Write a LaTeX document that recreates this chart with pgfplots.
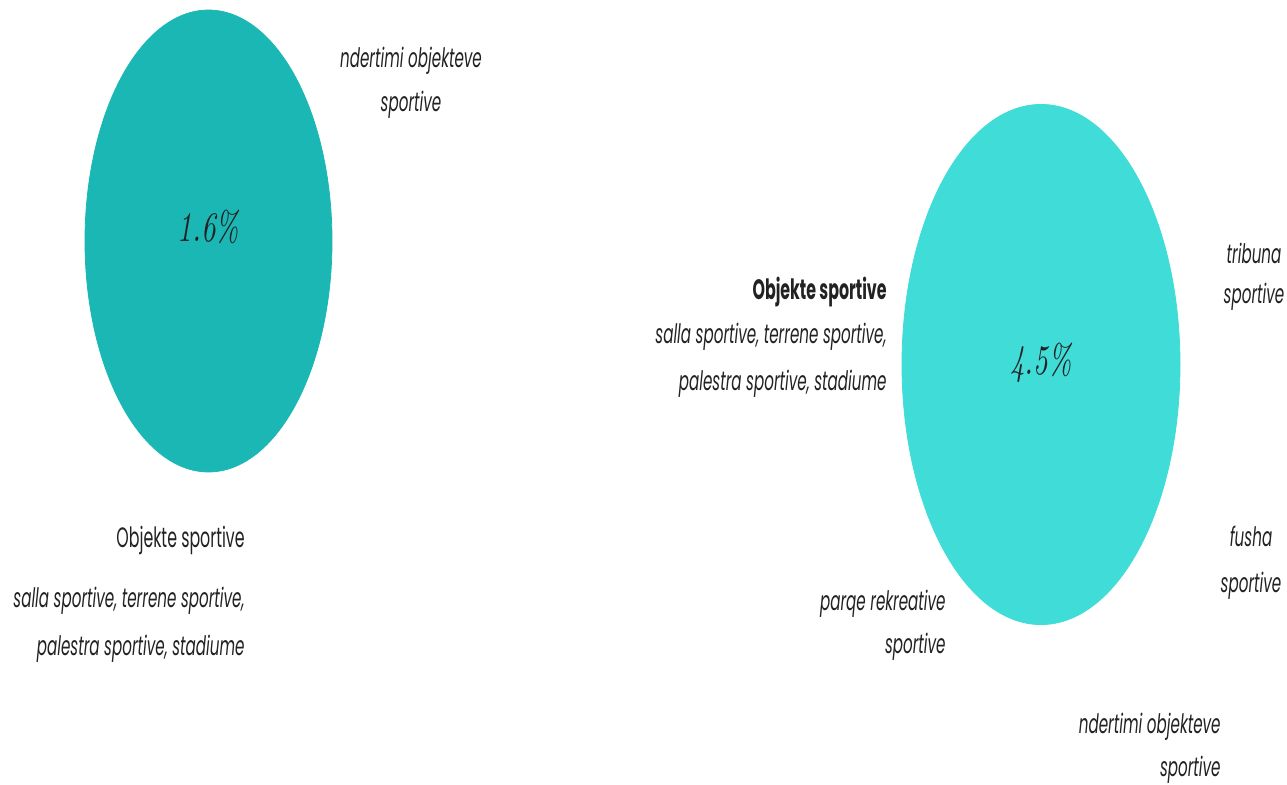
\documentclass[border=0pt]{standalone}
\usepackage{pgfplots}
\pgfplotsset{compat=1.18}
\usepackage{fontspec}
\setmainfont{Poppins}
\newfontfamily\lmri{lmroman10-italic.otf}
\definecolor{tealA}{RGB}{27,183,181}
\definecolor{tealB}{RGB}{64,220,216}
\definecolor{txt}{RGB}{34,34,34}
\newcommand\sq[1]{\scalebox{0.565}[1]{#1}}
\newcommand\sqp[1]{\scalebox{0.68}[1]{#1}}
\tikzset{lbl/.style={text=txt,inner sep=0pt},
  it/.style={font=\itshape\fontsize{13.4}{15}\selectfont}}
\begin{document}
\begin{tikzpicture}
\begin{axis}[width=643.5pt,height=392pt,scale only axis,
  xmin=0,xmax=1287,ymin=0,ymax=784,y dir=reverse,
  ticks=none,axis line style={draw=none},clip=false]
% bubbles: value 1.6 and 4.5
\addplot[tealA, only marks, mark=*, mark size=61.75pt,
  mark options={fill=tealA, draw=tealA, yscale=1.87},
  point meta=explicit,
  nodes near coords={\sqp{\lmri\fontsize{21}{23}\selectfont\pgfmathprintnumber[fixed,precision=1,assume math mode=true]{\pgfplotspointmeta}\%}},
  nodes near coords align={center},
  every node near coord/.append style={text=txt, yshift=7pt}]
  coordinates {(208.5,241) [1.6]};
\addplot[tealB, only marks, mark=*, mark size=69.5pt,
  mark options={fill=tealB, draw=tealB, yscale=1.871},
  point meta=explicit,
  nodes near coords={\sqp{\lmri\fontsize{21}{23}\selectfont\pgfmathprintnumber[fixed,precision=1,assume math mode=true]{\pgfplotspointmeta}\%}},
  nodes near coords align={center},
  every node near coord/.append style={text=txt, yshift=1pt}]
  coordinates {(1041,364.5) [4.5]};
% left labels
\node[lbl,it] at (axis cs:411,61) {\sq{ndertimi objekteve}};
\node[lbl,it] at (axis cs:411,105) {\sq{sportive}};
\node[lbl,anchor=east,font=\fontsize{14}{16}\selectfont] at (axis cs:245,540) {\sq{Objekte sportive}};
\node[lbl,anchor=east,it] at (axis cs:245,601) {\sq{salla sportive, terrene sportive,}};
\node[lbl,anchor=east,it] at (axis cs:245,649) {\sq{palestra sportive, stadiume}};
% right labels
\node[lbl,anchor=east,font=\bfseries\fontsize{14}{16}\selectfont] at (axis cs:887,292) {\sq{Objekte sportive}};
\node[lbl,anchor=east,it] at (axis cs:887,337) {\sq{salla sportive, terrene sportive,}};
\node[lbl,anchor=east,it] at (axis cs:887,384) {\sq{palestra sportive, stadiume}};
\node[lbl,it] at (axis cs:1254,253) {\sq{tribuna}};
\node[lbl,it] at (axis cs:1254,297) {\sq{sportive}};
\node[lbl,it] at (axis cs:1251,536) {\sq{fusha}};
\node[lbl,it] at (axis cs:1251,586) {\sq{sportive}};
\node[lbl,anchor=east,it] at (axis cs:946,604) {\sq{parqe rekreative}};
\node[lbl,anchor=east,it] at (axis cs:946,647) {\sq{sportive}};
\node[lbl,anchor=east,it] at (axis cs:1221,727) {\sq{ndertimi objekteve}};
\node[lbl,anchor=east,it] at (axis cs:1221,770) {\sq{sportive}};
\end{axis}
\pgfresetboundingbox
\path (current axis.south west) rectangle (current axis.north east);
\end{tikzpicture}
\end{document}
